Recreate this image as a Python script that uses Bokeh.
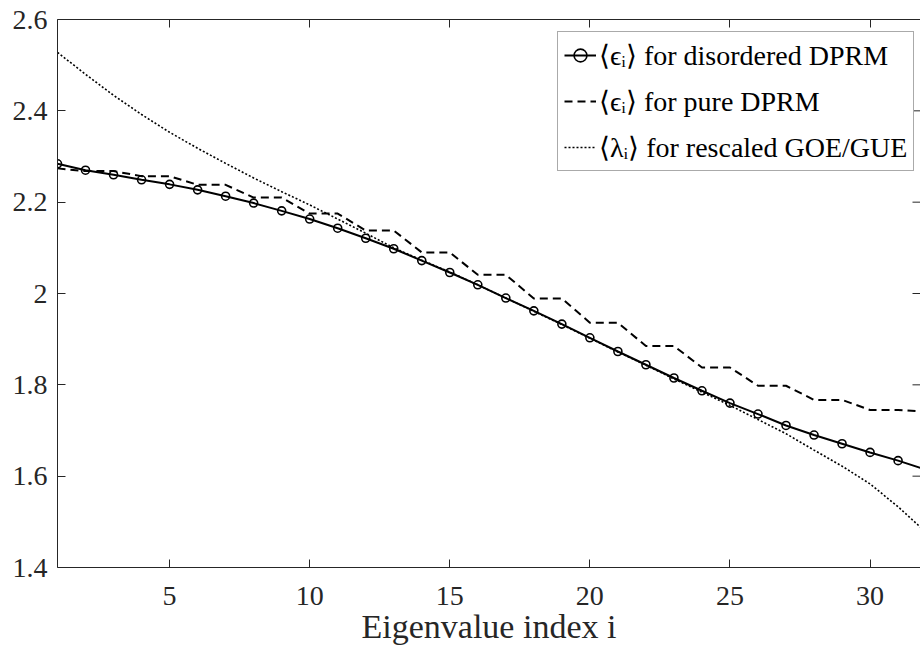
from bokeh.plotting import figure
from bokeh.models import (Range1d, LinearAxis, FixedTicker, Legend, LegendItem,
                          CustomJSTickFormatter)
from bokeh.embed import file_html
from bokeh.resources import INLINE

# ---- data ----
idx = list(range(1, 33))
disordered = [2.284, 2.270, 2.260, 2.249, 2.239, 2.227, 2.213, 2.198, 2.181, 2.163,
              2.143, 2.121, 2.098, 2.072, 2.046, 2.019, 1.990, 1.962, 1.933, 1.903,
              1.873, 1.844, 1.815, 1.787, 1.760, 1.736, 1.711, 1.690, 1.671, 1.652,
              1.634, 1.614]
pure = [2.274, 2.268, 2.268, 2.257, 2.257, 2.238, 2.238, 2.210, 2.210, 2.175,
        2.175, 2.138, 2.138, 2.090, 2.090, 2.041, 2.041, 1.989, 1.989, 1.936,
        1.936, 1.885, 1.885, 1.838, 1.838, 1.798, 1.798, 1.767, 1.767, 1.745,
        1.745, 1.741]
goe = [2.528, 2.480, 2.434, 2.392, 2.353, 2.318, 2.285, 2.253, 2.223, 2.194,
       2.163, 2.132, 2.100, 2.073, 2.047, 2.019, 1.990, 1.961, 1.932, 1.902,
       1.872, 1.843, 1.813, 1.784, 1.755, 1.724, 1.693, 1.657, 1.622, 1.583,
       1.533, 1.477]
x_ticks = [5, 10, 15, 20, 25, 30]
y_ticks = [1.4, 1.6, 1.8, 2.0, 2.2, 2.4, 2.6]
y_tick_labels = ["1.4", "1.6", "1.8", "2", "2.2", "2.4", "2.6"]
series_labels = ["\u27e8\u03f5\u1d62\u27e9 for disordered DPRM",
                 "\u27e8\u03f5\u1d62\u27e9 for pure DPRM",
                 "\u27e8\u03bb\u1d62\u27e9 for rescaled GOE/GUE"]
x_label = "Eigenvalue index i"
x_start, x_end = 1, 31.8
y_start, y_end = 1.4, 2.6

FONT = "Liberation Serif"
AX = "#262626"

p = figure(width=920, height=649, x_range=Range1d(x_start, x_end),
           y_range=Range1d(y_start, y_end),
           output_backend="svg", toolbar_location=None,
           min_border_left=57, min_border_right=0, min_border_top=19, min_border_bottom=82,
           background_fill_color="white", border_fill_color="white")
p.xgrid.visible = False
p.ygrid.visible = False
p.outline_line_color = None

# main axes
p.xaxis.ticker = FixedTicker(ticks=x_ticks)
p.yaxis.ticker = FixedTicker(ticks=y_ticks)
p.yaxis.major_label_overrides = {t: l for t, l in zip(y_ticks, y_tick_labels)}
p.xaxis.axis_label = x_label
for ax in (p.xaxis[0], p.yaxis[0]):
    ax.axis_line_color = AX
    ax.major_tick_line_color = AX
    ax.major_tick_in = 8
    ax.major_tick_out = 0
    ax.minor_tick_line_color = None
    ax.major_label_text_font = FONT
    ax.major_label_text_font_size = "28px"
    ax.major_label_text_color = AX
    ax.axis_label_text_font = FONT
    ax.axis_label_text_font_size = "34px"
    ax.axis_label_text_font_style = "normal"
    ax.axis_label_text_color = AX
p.xaxis.major_label_standoff = 19
p.xaxis.axis_label_standoff = 0
p.yaxis.major_label_standoff = 10

# top box edge with inward ticks
blank = CustomJSTickFormatter(code="return '';")
top = LinearAxis(ticker=FixedTicker(ticks=x_ticks), formatter=blank,
                 major_tick_in=8, major_tick_out=0, minor_tick_line_color=None,
                 axis_line_color=AX, major_tick_line_color=AX, major_label_standoff=0,
                 major_label_text_font_size="8px")
p.add_layout(top, "above")

# right-edge inward ticks (the right box edge itself lies beyond the picture)
p.scatter([x_end] * len(y_ticks), y_ticks, marker="dash", size=16,
          line_color=AX, line_width=1)

# series
r_goe = p.line(idx, goe, line_color="black", line_width=1.6, line_dash="2 2")
r_pure = p.line(idx, pure, line_color="black", line_width=2, line_dash="8 5")
r_dis = p.line(idx, disordered, line_color="black", line_width=2)
r_dis_m = p.scatter(idx, disordered, marker="circle", size=8, fill_color=None,
                    line_color="black", line_width=1.6)

legend = Legend(items=[LegendItem(label=series_labels[0], renderers=[r_dis, r_dis_m]),
                       LegendItem(label=series_labels[1], renderers=[r_pure]),
                       LegendItem(label=series_labels[2], renderers=[r_goe])],
                location=(500, 396), margin=0, padding=6, spacing=12,
                label_text_font=FONT, label_text_font_size="28px",
                label_text_color="black", label_standoff=3,
                glyph_width=32, glyph_height=34, label_height=34,
                border_line_color="#555555", border_line_width=1,
                background_fill_color="white", background_fill_alpha=1)
p.add_layout(legend, "center")

open("out.html", "w").write(file_html(p, INLINE))
